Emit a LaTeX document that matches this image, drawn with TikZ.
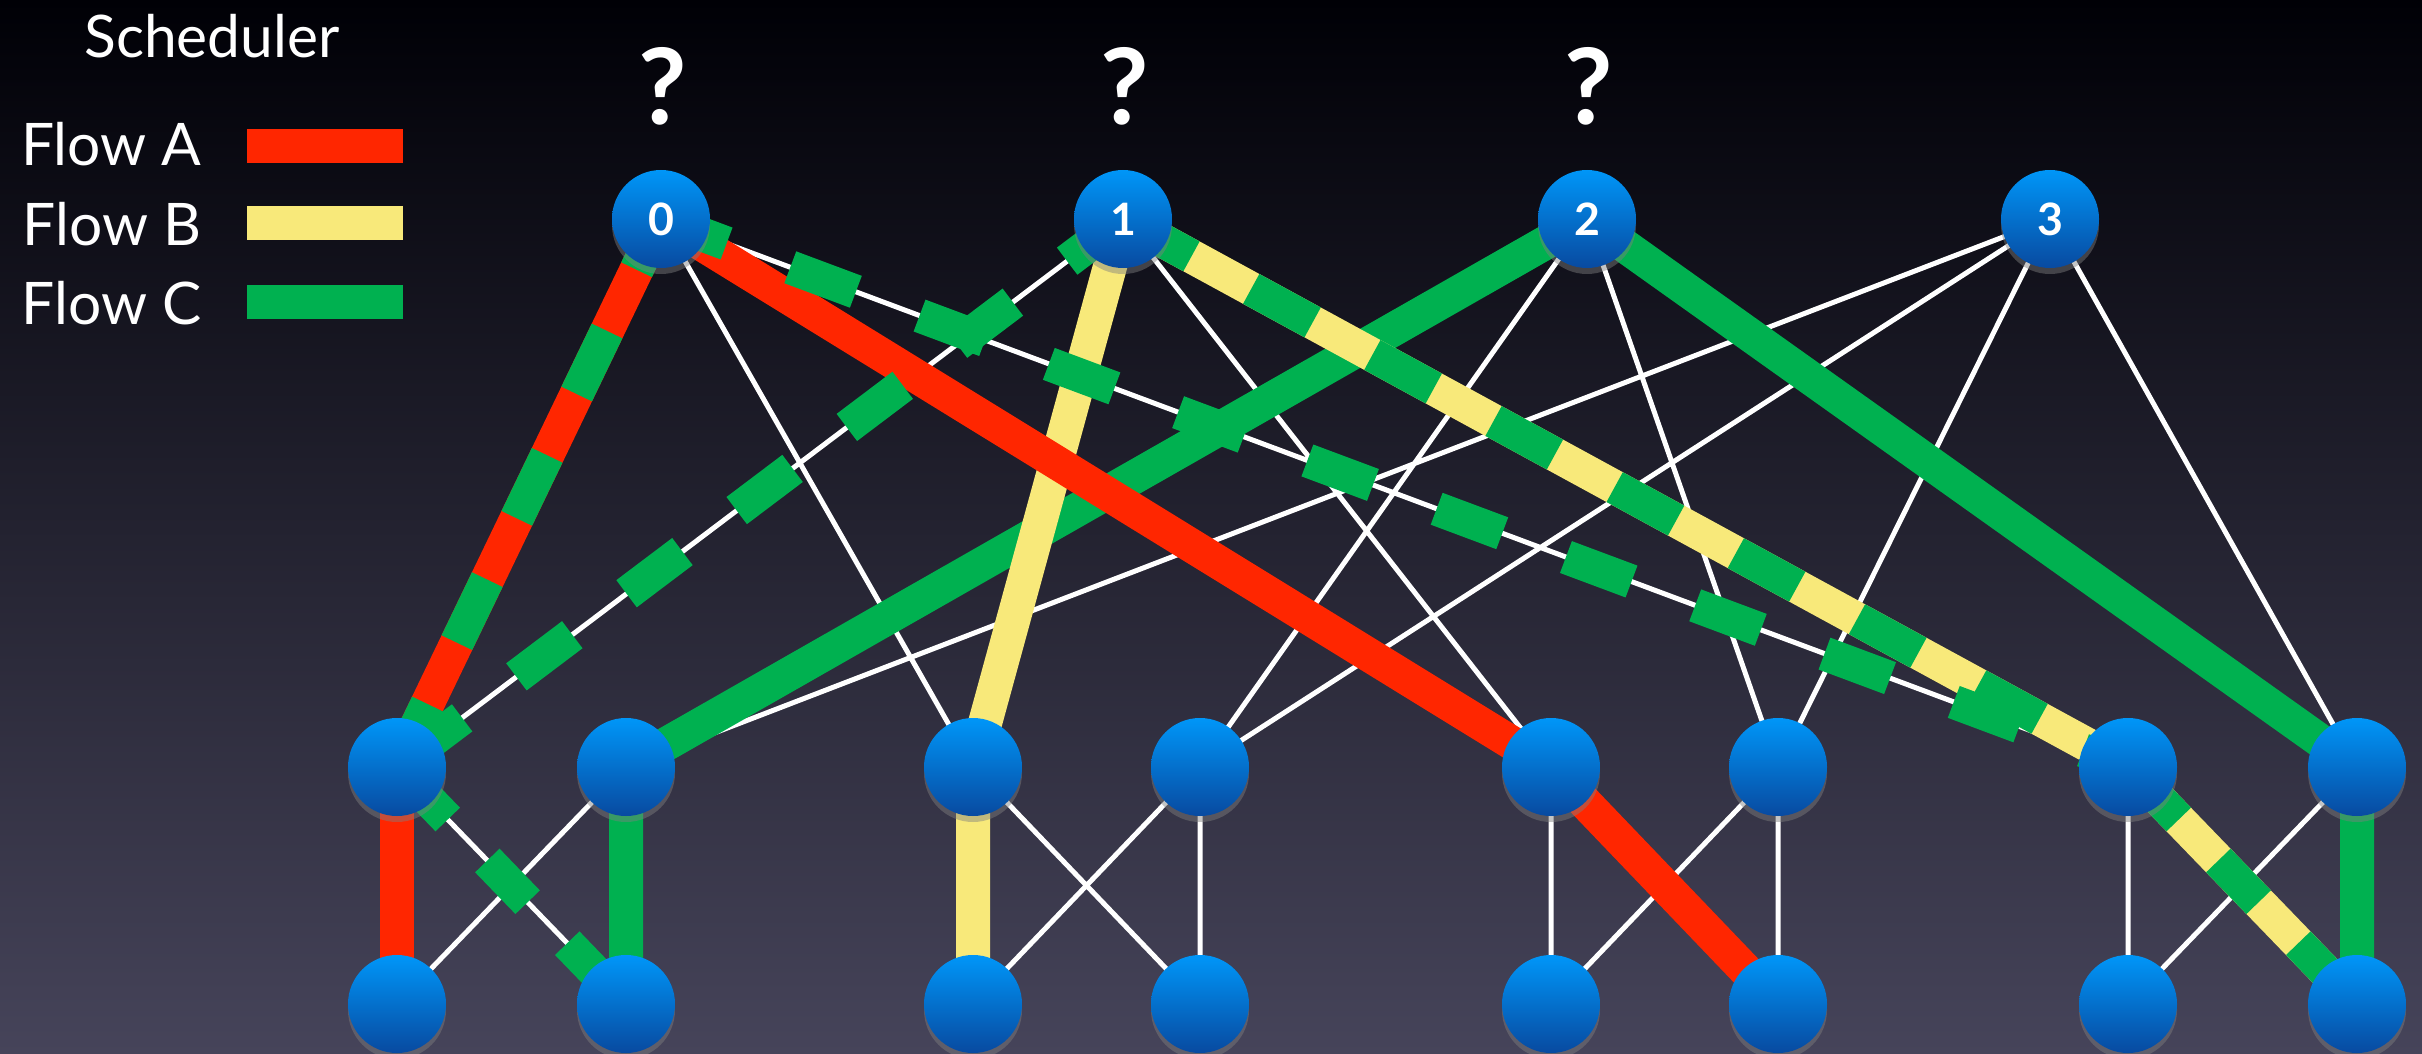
\documentclass[tikz,border=0pt]{standalone}
\usepackage{fontspec}
\setmainfont{Lato}
\usetikzlibrary{shadows}
\definecolor{flowred}{RGB}{255,38,0}
\definecolor{flowyellow}{RGB}{248,233,122}
\definecolor{flowgreen}{RGB}{0,177,80}
\definecolor{balltop}{RGB}{0,150,248}
\definecolor{ballbottom}{RGB}{8,74,160}
\definecolor{skytop}{RGB}{0,0,6}
\definecolor{skymid}{RGB}{22,22,46}
\definecolor{skybottom}{RGB}{70,68,90}
\pgfdeclarelayer{backdrop}
\pgfdeclarelayer{links}
\pgfsetlayers{backdrop,links,main}

\begin{document}
\begin{tikzpicture}[x=1cm,y=1cm]
  \tikzstyle{switchnode}=[circle, minimum size=9.8mm, inner sep=0pt, top color=balltop, bottom color=ballbottom, drop shadow={shadow xshift=0pt, shadow yshift=-0.6mm, opacity=0.45}]
  \tikzstyle{corelabel}=[text=white, font=\fontsize{12.7}{14}\selectfont\bfseries]
  \tikzstyle{legendtext}=[text=white, inner sep=0pt, font=\fontsize{16.7}{20}\selectfont]
  \tikzstyle{legendbar}=[minimum width=15.6mm, minimum height=3.4mm, inner sep=0pt]
  \tikzstyle{asktext}=[text=white, inner sep=0pt, font=\fontsize{30}{34}\selectfont\bfseries]
  \tikzstyle{thinlink}=[draw=white, line width=0.5mm]
  \tikzstyle{flowa}=[draw=flowred, line width=3.4mm]
  \tikzstyle{flowb}=[draw=flowyellow, line width=3.4mm]
  \tikzstyle{flowc}=[draw=flowgreen, line width=3.4mm]
  \tikzstyle{flowcdash}=[flowc, dash pattern=on 7mm off 6.8mm]
  \tikzstyle{flowcshort}=[flowc, dash pattern=on 5.8mm off 5.7mm, dash phase=10mm]
  \useasboundingbox (0,0) rectangle (24.22,-10.54);
  \begin{pgfonlayer}{backdrop}
    \shade[top color=skytop, middle color=skymid, bottom color=skybottom] (0,0) rectangle (24.22,-10.54);
  \end{pgfonlayer}

  % legend
  \node[legendtext] (sched) at (2.12,-0.36) {Scheduler};
  \node[legendtext, anchor=east] (fa) at (2.02,-1.44) {Flow A};
  \node[legendtext, anchor=east] (fb) at (2.02,-2.24) {Flow B};
  \node[legendtext, anchor=east] (fc) at (2.02,-3.03) {Flow C};
  \node[legendbar, fill=flowred] (ba) at (3.25,-1.46) {};
  \node[legendbar, fill=flowyellow] (bb) at (3.25,-2.23) {};
  \node[legendbar, fill=flowgreen] (bc) at (3.25,-3.02) {};

  % core switches
  \node[switchnode, corelabel] (c0) at (6.61,-2.19) {0};
  \node[switchnode, corelabel] (c1) at (11.23,-2.19) {1};
  \node[switchnode, corelabel] (c2) at (15.87,-2.19) {2};
  \node[switchnode, corelabel] (c3) at (20.50,-2.19) {3};
  \node[asktext] (q0) at (6.63,-0.86) {?};
  \node[asktext] (q1) at (11.25,-0.86) {?};
  \node[asktext] (q2) at (15.89,-0.86) {?};

  % aggregation and edge switches
  \node[switchnode] (a1) at (3.97,-7.67) {};
  \node[switchnode] (a2) at (6.26,-7.67) {};
  \node[switchnode] (a3) at (9.73,-7.67) {};
  \node[switchnode] (a4) at (12.00,-7.67) {};
  \node[switchnode] (a5) at (15.51,-7.67) {};
  \node[switchnode] (a6) at (17.78,-7.67) {};
  \node[switchnode] (a7) at (21.28,-7.67) {};
  \node[switchnode] (a8) at (23.57,-7.67) {};
  \node[switchnode] (e1) at (3.97,-10.04) {};
  \node[switchnode] (e2) at (6.26,-10.04) {};
  \node[switchnode] (e3) at (9.73,-10.04) {};
  \node[switchnode] (e4) at (12.00,-10.04) {};
  \node[switchnode] (e5) at (15.51,-10.04) {};
  \node[switchnode] (e6) at (17.78,-10.04) {};
  \node[switchnode] (e7) at (21.28,-10.04) {};
  \node[switchnode] (e8) at (23.57,-10.04) {};

  \begin{pgfonlayer}{links}
    % all links
    \draw[thinlink] (c0.center) -- (a1.center) (c0.center) -- (a3.center) (c0.center) -- (a5.center) (c0.center) -- (a7.center)
                    (c1.center) -- (a1.center) (c1.center) -- (a3.center) (c1.center) -- (a5.center) (c1.center) -- (a7.center)
                    (c2.center) -- (a2.center) (c2.center) -- (a4.center) (c2.center) -- (a6.center) (c2.center) -- (a8.center)
                    (c3.center) -- (a2.center) (c3.center) -- (a4.center) (c3.center) -- (a6.center) (c3.center) -- (a8.center);
    \draw[thinlink] (a1.center) -- (e1.center) (a1.center) -- (e2.center) (a2.center) -- (e1.center) (a2.center) -- (e2.center)
                    (a3.center) -- (e3.center) (a3.center) -- (e4.center) (a4.center) -- (e3.center) (a4.center) -- (e4.center)
                    (a5.center) -- (e5.center) (a5.center) -- (e6.center) (a6.center) -- (e5.center) (a6.center) -- (e6.center)
                    (a7.center) -- (e7.center) (a7.center) -- (e8.center) (a8.center) -- (e7.center) (a8.center) -- (e8.center);
    % flow C
    \draw[flowc] (c2.center) -- (a2.center) -- (e2.center);
    \draw[flowc] (c2.center) -- (a8.center) -- (e8.center);
    % flow B
    \draw[flowb] (c1.center) -- (a3.center) -- (e3.center);
    \draw[flowb] (c1.center) -- (a7.center);
    \draw[flowb] (a7.center) -- (e8.center);
    % flow A
    \draw[flowa] (a1.center) -- (c0.center);
    \draw[flowa] (c0.center) -- (a5.center);
    \draw[flowa] (a1.center) -- (e1.center);
    \draw[flowa] (a5.center) -- (e6.center);
    % flow C, dashed
    \draw[flowcdash] (a1.center) -- (c0.center);
    \draw[flowcdash] (c0.center) -- (a7.center);
    \draw[flowcdash] (c1.center) -- (a1.center);
    \draw[flowcdash, dash phase=13mm] (c1.center) -- (a7.center);
    \draw[flowcshort] (a1.center) -- (e2.center);
    \draw[flowcshort] (a7.center) -- (e8.center);
  \end{pgfonlayer}
\end{tikzpicture}
\end{document}
